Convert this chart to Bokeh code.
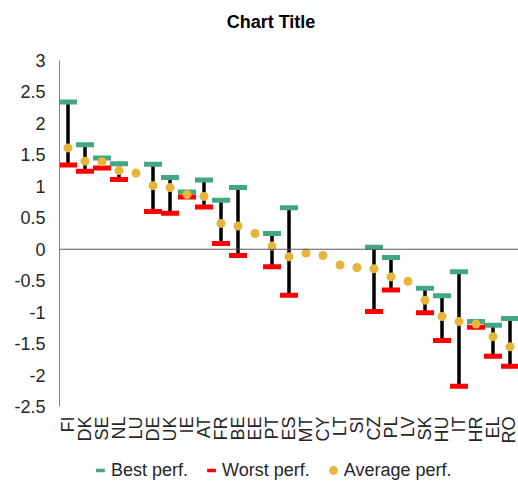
import numpy as np
from bokeh.plotting import figure
from bokeh.layouts import column
from bokeh.models import (FactorRange, Range1d, FixedTicker, Span, Legend, LegendItem,
                          ColumnDataSource, Label)
from bokeh.embed import file_html
from bokeh.resources import INLINE

countries = ["FI", "DK", "SE", "NL", "LU", "DE", "UK", "IE", "AT", "FR", "BE", "EE", "PT", "ES",
             "MT", "CY", "LT", "SI", "CZ", "PL", "LV", "SK", "HU", "IT", "HR", "EL", "RO"]
best_perf = [2.34, 1.66, 1.45, 1.36, None, 1.35, 1.14, 0.91, 1.10, 0.78, 0.98, None, 0.25, 0.66,
             None, None, None, None, 0.03, -0.13, None, -0.62, -0.74, -0.36, -1.15, -1.21, -1.10]
worst_perf = [1.34, 1.24, 1.29, 1.11, None, 0.60, 0.57, 0.83, 0.67, 0.09, -0.10, None, -0.28, -0.73,
              None, None, None, None, -0.99, -0.65, None, -1.01, -1.45, -2.18, -1.24, -1.70, -1.86]
avg_perf = [1.61, 1.40, 1.39, 1.25, 1.21, 1.01, 0.98, 0.87, 0.84, 0.41, 0.37, 0.25, 0.05, -0.12,
            -0.06, -0.10, -0.25, -0.29, -0.31, -0.44, -0.51, -0.81, -1.07, -1.15, -1.19, -1.39, -1.55]
y_ticks = [3, 2.5, 2, 1.5, 1, 0.5, 0, -0.5, -1, -1.5, -2, -2.5]
y_tick_labels = ["3", "2.5", "2", "1.5", "1", "0.5", "0", "-0.5", "-1", "-1.5", "-2", "-2.5"]
legend_labels = ["Best perf.", "Worst perf.", "Average perf."]
chart_title = "Chart Title"

def arr(v):
    return np.array([np.nan if x is None else x for x in v], dtype=float)

src = ColumnDataSource(dict(c=countries, best=arr(best_perf), worst=arr(worst_perf), avg=arr(avg_perf)))

GREEN = "#41A883"
RED = "#FF0000"
GOLD = "#E8B43A"
FONT = "Liberation Sans"
TXT = "#262626"

# title strip (frames in the column share the same left edge at 59px)
tt = figure(width=518, height=50, output_backend="svg", toolbar_location=None,
            x_range=Range1d(59, 518), y_range=Range1d(0, 50),
            min_border_left=59, min_border_right=0, min_border_top=0, min_border_bottom=0,
            outline_line_color=None)
tt.axis.visible = False
tt.grid.visible = False
tt.add_layout(Label(x=270.5, y=28.5, text=chart_title, text_align="center", text_baseline="middle",
                    text_font=FONT, text_font_size="18px", text_font_style="bold",
                    text_color="#000000"))

p = figure(width=518, height=403, output_backend="svg", toolbar_location=None,
           x_range=FactorRange(*countries), y_range=Range1d(-2.5, 3),
           min_border_left=59, min_border_right=0, min_border_top=10, min_border_bottom=47,
           outline_line_color=None)
p.background_fill_color = "white"
p.border_fill_color = "white"
p.grid.visible = False

yax = p.yaxis[0]
yax.ticker = FixedTicker(ticks=y_ticks)
yax.major_label_overrides = {t: l for t, l in zip(y_ticks, y_tick_labels)}
yax.major_tick_out = 0
yax.major_tick_in = 0
yax.minor_tick_out = 0
yax.minor_tick_in = 0
yax.axis_line_color = "#808080"
yax.axis_line_width = 1
yax.major_label_text_font = FONT
yax.major_label_text_font_size = "18px"
yax.major_label_text_color = TXT
yax.major_label_standoff = 14

xax = p.xaxis[0]
xax.axis_line_color = None
xax.major_tick_out = 0
xax.major_tick_in = 0
xax.major_label_orientation = np.pi / 2
xax.major_label_text_font = FONT
xax.major_label_text_font_size = "18px"
xax.major_label_text_color = TXT
xax.major_label_standoff = 10

p.add_layout(Span(location=0, dimension="width", line_color="#595959", line_width=1.2))

p.segment(x0="c", y0="worst", x1="c", y1="best", source=src, line_color="black", line_width=3.5)
p.rect(x="c", y="best", width=18, height=5, width_units="screen", height_units="screen",
       source=src, fill_color=GREEN, line_color=None)
p.rect(x="c", y="worst", width=18, height=5, width_units="screen", height_units="screen",
       source=src, fill_color=RED, line_color=None)
p.scatter(x="c", y="avg", size=9, marker="circle", source=src, fill_color=GOLD, line_color=None)

# legend strip below the chart
lg = figure(width=518, height=30, output_backend="svg", toolbar_location=None,
            x_range=Range1d(0, 1), y_range=Range1d(0, 1),
            min_border_left=59, min_border_right=0, min_border_top=0, min_border_bottom=0,
            outline_line_color=None)
lg.axis.visible = False
lg.grid.visible = False
dsrc = ColumnDataSource(dict(x=[np.nan], y=[np.nan]))
lb = lg.scatter(x="x", y="y", marker="dash", source=dsrc, line_color=GREEN, line_width=3.5, size=9)
lw = lg.scatter(x="x", y="y", marker="dash", source=dsrc, line_color=RED, line_width=3.5, size=9)
la = lg.scatter(x="x", y="y", marker="circle", source=dsrc, fill_color=GOLD, line_color=None, size=9)

legend = Legend(items=[LegendItem(label=legend_labels[0], renderers=[lb]),
                       LegendItem(label=legend_labels[1], renderers=[lw]),
                       LegendItem(label=legend_labels[2], renderers=[la])],
                orientation="horizontal", location=(30, 2),
                glyph_width=22, glyph_height=22, label_standoff=-3, spacing=12,
                padding=0, margin=0, border_line_color=None, background_fill_alpha=0,
                label_text_font=FONT, label_text_font_size="18px", label_text_color=TXT)
lg.add_layout(legend, "center")

layout = column(tt, p, lg, spacing=0)
open("out.html", "w").write(file_html(layout, INLINE))
